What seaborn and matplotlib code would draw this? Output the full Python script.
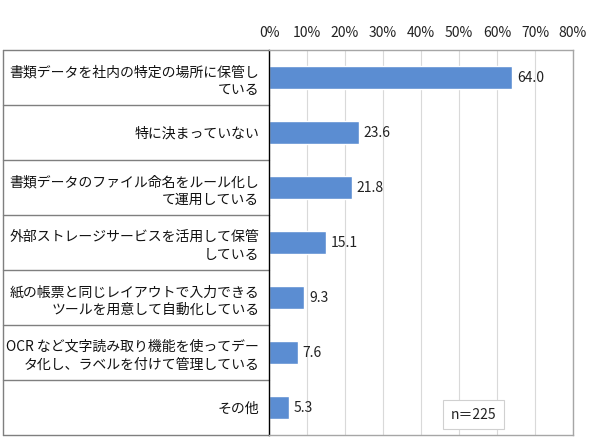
import matplotlib
matplotlib.use("Agg")
import matplotlib.pyplot as plt
import matplotlib.transforms as mtransforms
import numpy as np
import pandas as pd
import seaborn as sns

categories = [
    "書類データを社内の特定の場所に保管し\nている",
    "特に決まっていない",
    "書類データのファイル命名をルール化し\nて運用している",
    "外部ストレージサービスを活用して保管\nしている",
    "紙の帳票と同じレイアウトで入力できる\nツールを用意して自動化している",
    "OCR など文字読み取り機能を使ってデー\nタ化し、ラベルを付けて管理している",
    "その他",
]
values = [64.0, 23.6, 21.8, 15.1, 9.3, 7.6, 5.3]
xticks = [0, 10, 20, 30, 40, 50, 60, 70, 80]
n_label = "n＝225"

sns.set_theme(style="white")
plt.rcParams['font.family'] = ['Noto Sans CJK JP', 'DejaVu Sans']

df = pd.DataFrame({"item": categories, "pct": values})

fig = plt.figure(figsize=(5.9, 4.45), dpi=100)
W, H = 590, 445
ax = fig.add_axes([269 / W, 10 / H, 304 / W, 385 / H])

sns.barplot(data=df, y="item", x="pct", orient="h", color="#5B8DD2",
            saturation=1, width=0.42, ax=ax)

n = len(categories)
ax.set_ylim(n - 0.5, -0.5)
ax.set_xlim(0, 80)
ax.set_xticks(xticks)
ax.set_xticklabels([f"{t}%" for t in xticks], fontsize=10, color="#222222")
ax.xaxis.tick_top()
ax.tick_params(axis="x", length=0, pad=7)
ax.set_xlabel("")
ax.set_ylabel("")
ax.grid(axis="x", color="#D9D9D9", linewidth=0.8)
ax.set_axisbelow(True)

for s in ["top", "right", "bottom"]:
    ax.spines[s].set_color("#A6A6A6")
    ax.spines[s].set_linewidth(1)
ax.spines["left"].set_color("black")
ax.spines["left"].set_linewidth(1)

# labels in boxes on the left
ax.set_yticks(range(n))
ax.set_yticklabels(categories, fontsize=10, color="#111111", linespacing=1.35)
ax.tick_params(axis="y", length=0, pad=7)

trans = mtransforms.blended_transform_factory(ax.transAxes, ax.transData)
box_left = (3 - 269) / 304
for i in range(n + 1):
    y = i - 0.5
    ax.plot([box_left, 0], [y, y], transform=trans, color="#7F7F7F",
            linewidth=1, clip_on=False)
ax.plot([box_left, box_left], [-0.5, n - 0.5], transform=trans,
        color="#7F7F7F", linewidth=1, clip_on=False)

for i, v in enumerate(values):
    ax.text(v + 1.2, i, f"{v:.1f}", va="center", ha="left", fontsize=10,
            color="#222222")

ax.text(0.674, 0.053, n_label, transform=ax.transAxes, fontsize=10,
        ha="center", va="center", color="#222222",
        bbox=dict(boxstyle="square,pad=0.55", facecolor="white",
                  edgecolor="#D0D0D0", linewidth=0.8))

fig.savefig("out.png", dpi=100)
